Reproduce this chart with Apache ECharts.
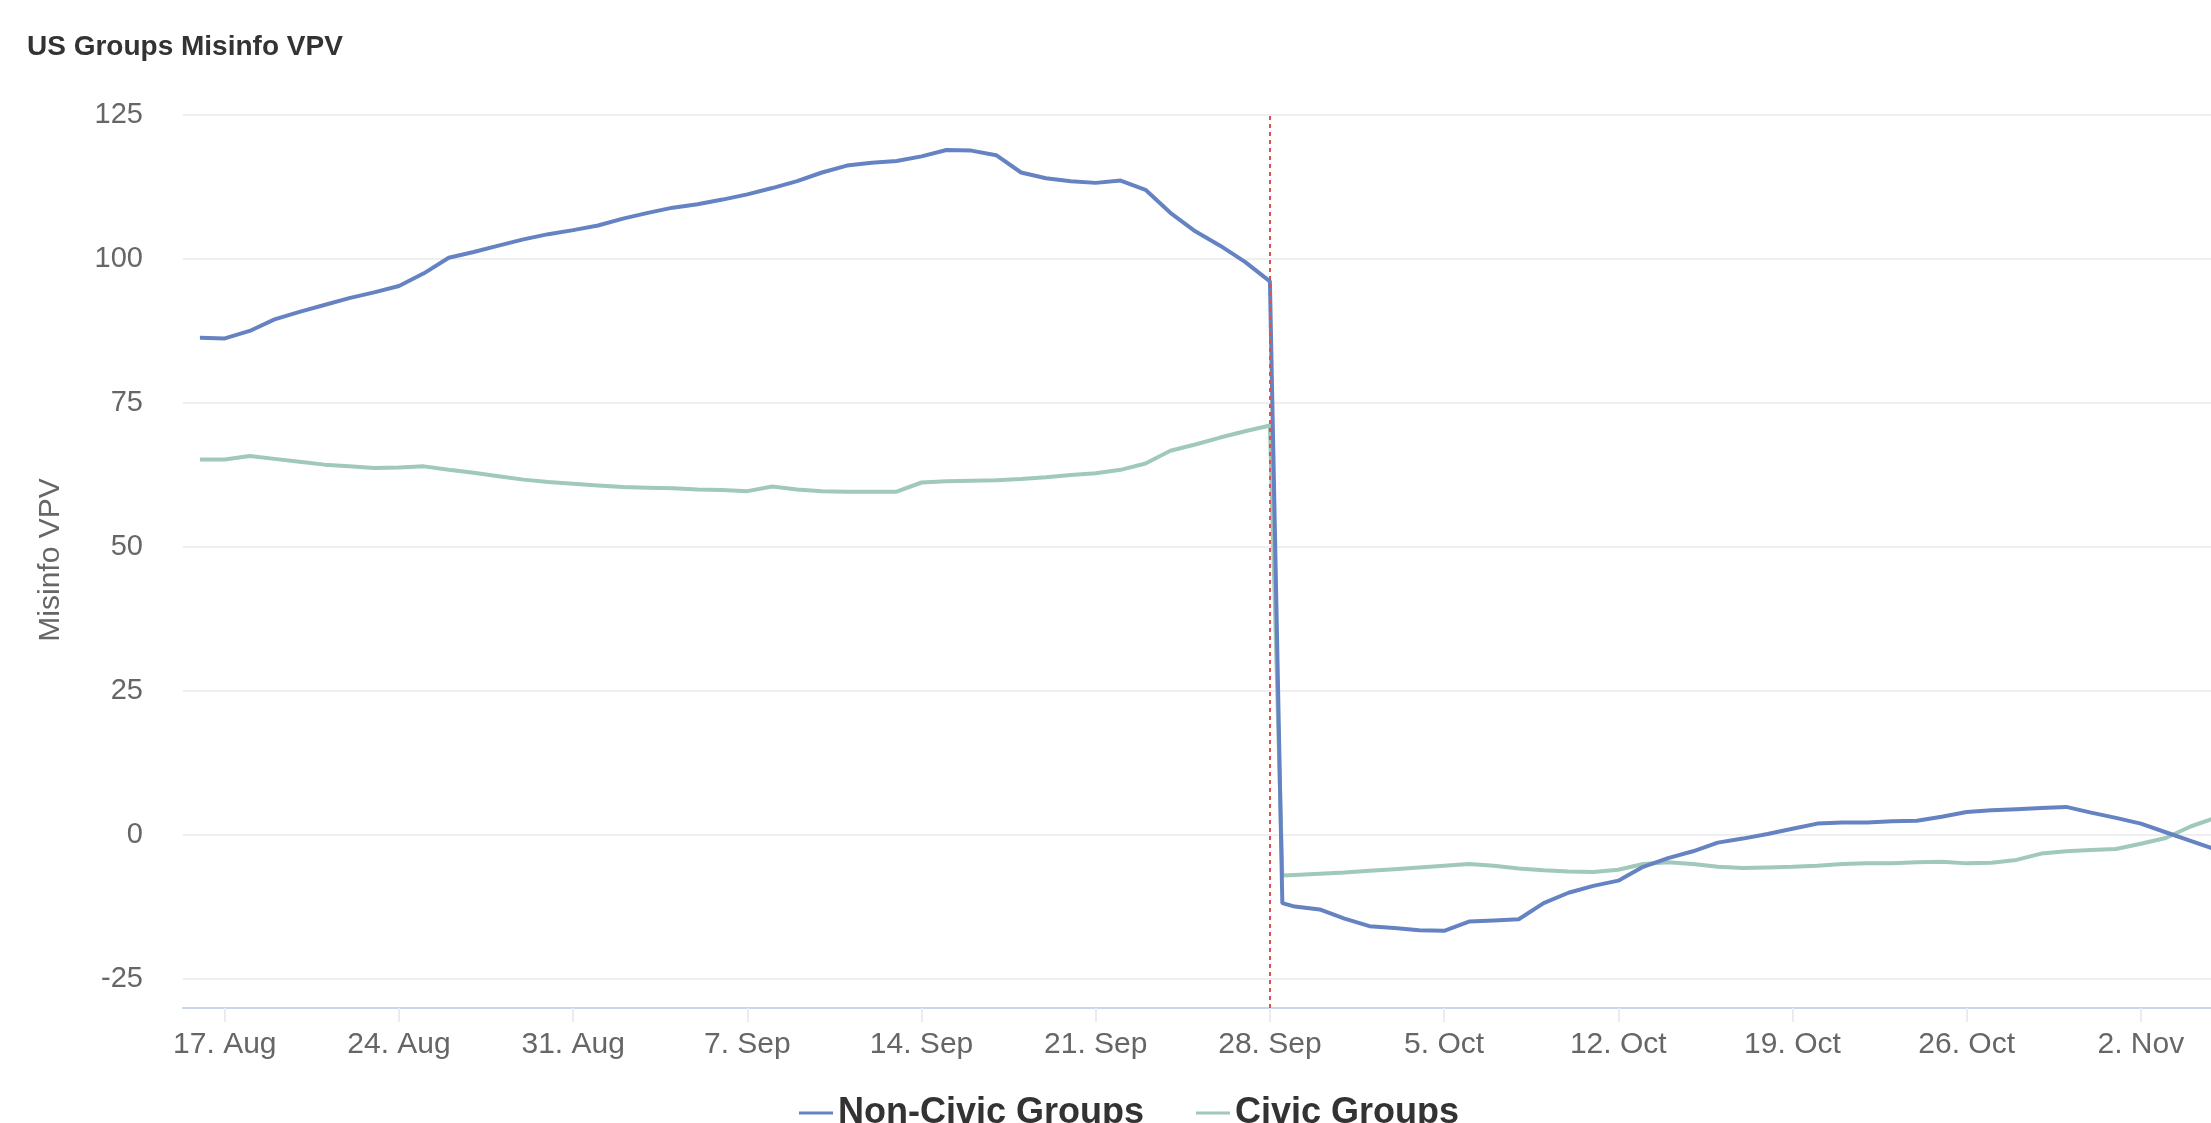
<!DOCTYPE html>
<html>
<head>
<meta charset="utf-8">
<script src="https://cdn.jsdelivr.net/npm/echarts@6/dist/echarts.min.js"></script>
<style>
  html, body { margin: 0; padding: 0; background: #ffffff; }
  #chart { width: 2211px; height: 1123px; }
</style>
</head>
<body>
<div id="chart"></div>
<script>
// ---- data ----
const dates = [
  '2020-08-16','2020-08-17','2020-08-18','2020-08-19','2020-08-20','2020-08-21','2020-08-22','2020-08-23',
  '2020-08-24','2020-08-25','2020-08-26','2020-08-27','2020-08-28','2020-08-29','2020-08-30','2020-08-31',
  '2020-09-01','2020-09-02','2020-09-03','2020-09-04','2020-09-05','2020-09-06','2020-09-07','2020-09-08',
  '2020-09-09','2020-09-10','2020-09-11','2020-09-12','2020-09-13','2020-09-14','2020-09-15','2020-09-16',
  '2020-09-17','2020-09-18','2020-09-19','2020-09-20','2020-09-21','2020-09-22','2020-09-23','2020-09-24',
  '2020-09-25','2020-09-26','2020-09-27','2020-09-28','2020-09-28T12:00','2020-09-29','2020-09-30','2020-10-01','2020-10-02',
  '2020-10-03','2020-10-04','2020-10-05','2020-10-06','2020-10-07','2020-10-08','2020-10-09','2020-10-10',
  '2020-10-11','2020-10-12','2020-10-13','2020-10-14','2020-10-15','2020-10-16','2020-10-17','2020-10-18',
  '2020-10-19','2020-10-20','2020-10-21','2020-10-22','2020-10-23','2020-10-24','2020-10-25','2020-10-26',
  '2020-10-27','2020-10-28','2020-10-29','2020-10-30','2020-10-31','2020-11-01','2020-11-02','2020-11-03',
  '2020-11-04','2020-11-05'
];
const nonCivic = [
  86.3, 86.2, 87.5, 89.5, 90.8, 92.0, 93.2, 94.2,
  95.3, 97.5, 100.2, 101.2, 102.3, 103.4, 104.3, 105.0,
  105.8, 107.0, 108.0, 108.9, 109.5, 110.3, 111.2, 112.3,
  113.5, 115.0, 116.2, 116.7, 117.0, 117.8, 118.9, 118.8,
  118.0, 115.0, 114.0, 113.5, 113.2, 113.6, 112.0, 108.0,
  104.8, 102.3, 99.5, 96.1, -11.8, -12.4, -12.9, -14.5, -15.8,
  -16.1, -16.5, -16.6, -15.0, -14.8, -14.6, -11.8, -10.0,
  -8.8, -7.9, -5.5, -4.0, -2.8, -1.3, -0.6, 0.2,
  1.1, 2.0, 2.2, 2.2, 2.4, 2.5, 3.2, 4.0,
  4.3, 4.5, 4.7, 4.9, 3.9, 3.0, 2.0, 0.5,
  -1.0, -2.5
];
const civic = [
  65.2, 65.2, 65.8, 65.3, 64.8, 64.3, 64.0, 63.7,
  63.8, 64.0, 63.4, 62.9, 62.3, 61.7, 61.3, 61.0,
  60.7, 60.4, 60.3, 60.2, 60.0, 59.9, 59.7, 60.5,
  60.0, 59.7, 59.6, 59.6, 59.6, 61.2, 61.4, 61.5,
  61.6, 61.8, 62.1, 62.5, 62.8, 63.4, 64.5, 66.7,
  67.8, 69.0, 70.1, 71.1, -7.0, -6.9, -6.7, -6.5, -6.2,
  -5.9, -5.6, -5.3, -5.0, -5.3, -5.8, -6.1, -6.3,
  -6.4, -6.0, -5.0, -4.7, -5.0, -5.5, -5.7, -5.6,
  -5.5, -5.3, -5.0, -4.9, -4.9, -4.7, -4.6, -4.9,
  -4.8, -4.3, -3.2, -2.8, -2.6, -2.4, -1.5, -0.5,
  1.5, 3.0
];
const tickDates = ['2020-08-17','2020-08-24','2020-08-31','2020-09-07','2020-09-14','2020-09-21',
                   '2020-09-28','2020-10-05','2020-10-12','2020-10-19','2020-10-26','2020-11-02'];
const tickLabels = ['17. Aug','24. Aug','31. Aug','7. Sep','14. Sep','21. Sep',
                    '28. Sep','5. Oct','12. Oct','19. Oct','26. Oct','2. Nov'];
const yTicks = [-25, 0, 25, 50, 75, 100, 125];
const markerDate = '2020-09-28';
const seriesNames = ['Non-Civic Groups', 'Civic Groups'];

// ---- helpers ----
const DAY = 86400000;
const ORIGIN = Date.UTC(2020, 7, 17);
function dayIndex(s) {
  const parts = s.split('T');
  const p = parts[0].split('-').map(Number);
  let h = 0;
  if (parts[1]) { h = Number(parts[1].split(':')[0]); }
  return (Date.UTC(p[0], p[1] - 1, p[2], h) - ORIGIN) / DAY;
}
const xs = dates.map(dayIndex);
const tickXs = tickDates.map(dayIndex);
const labelByX = {};
tickXs.forEach((x, i) => { labelByX[x] = tickLabels[i]; });

const FONT = "'Liberation Sans', Arial, sans-serif";

const chart = echarts.init(document.getElementById('chart'), null, { renderer: 'canvas' });
chart.setOption({
  animation: false,
  backgroundColor: '#ffffff',
  title: {
    text: 'US Groups Misinfo VPV',
    left: 22, top: 28,
    textStyle: { fontFamily: FONT, fontSize: 28, fontWeight: 'bold', color: '#333333' }
  },
  legend: {
    data: seriesNames,
    left: 794, top: 1090,
    icon: 'rect', itemWidth: 34, itemHeight: 3, itemGap: 52,
    textStyle: { fontFamily: FONT, fontSize: 36, fontWeight: 'bold', color: '#333333' }
  },
  grid: { left: 183, right: 0, top: 112, bottom: 115, containLabel: false },
  xAxis: {
    type: 'value',
    min: -1.68, max: 79.82,
    axisLine: { show: true, onZero: false, lineStyle: { color: '#ccd6eb', width: 2 } },
    axisTick: { show: true, customValues: tickXs, length: 14, lineStyle: { color: '#e8ecf3', width: 2 } },
    axisLabel: {
      customValues: tickXs,
      formatter: v => labelByX[v] || '',
      fontFamily: FONT, fontSize: 30, color: '#666666', margin: 22
    },
    splitLine: { show: false }
  },
  yAxis: {
    type: 'value',
    min: -30, max: 125.5,
    name: 'Misinfo VPV', nameLocation: 'middle', nameGap: 117,
    nameTextStyle: { fontFamily: FONT, fontSize: 30, color: '#666666' },
    axisLine: { show: false },
    axisTick: { show: false, customValues: yTicks },
    axisLabel: { customValues: yTicks, fontFamily: FONT, fontSize: 29, color: '#666666', margin: 40 },
    splitLine: { show: true, lineStyle: { color: '#efefef', width: 2 } }
  },
  series: [
    {
      name: seriesNames[0], type: 'line', showSymbol: false, symbol: 'none',
      color: '#6583c2',
      lineStyle: { width: 4, color: '#6583c2' },
      data: xs.map((x, i) => [x, nonCivic[i]]),
      markLine: {
        silent: true, symbol: 'none', label: { show: false },
        lineStyle: { color: '#d9534f', type: [4, 4], width: 2 },
        data: [{ xAxis: dayIndex(markerDate) }]
      },
      z: 3
    },
    {
      name: seriesNames[1], type: 'line', showSymbol: false, symbol: 'none',
      color: '#a0c8bb',
      lineStyle: { width: 4, color: '#a0c8bb' },
      data: xs.map((x, i) => [x, civic[i]]),
      z: 2
    }
  ]
});
</script>
</body>
</html>
